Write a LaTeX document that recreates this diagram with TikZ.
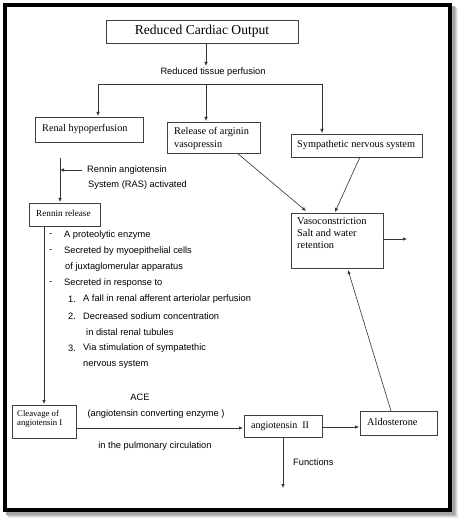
\documentclass[tikz,border=0pt]{standalone}
\usepackage{fontspec}
\setmainfont{Liberation Serif}
\setsansfont{Liberation Sans}
\usetikzlibrary{arrows.meta}
\begin{document}
\begin{tikzpicture}[x=1pt,y=-1pt,
  box/.style={draw=black!75,line width=0.6pt,fill=white,inner sep=0pt},
  lbl/.style={font=\sffamily\fontsize{9.3}{10}\selectfont,inner sep=0pt,anchor=west},
  conn/.style={draw=black!80,line width=0.6pt},
  arr/.style={conn,-{Latex[length=4pt,width=3.5pt]}}]
\useasboundingbox (0,0) rectangle (461,521);
\fill[white] (0,0) rectangle (461,521);
% frame shadow
\foreach \o/\c in {6/black!8,5/black!15,4/black!25,3/black!35}
  \draw[line width=4pt,\c] (5+\o,5+\o) rectangle (450+\o,510+\o);
\fill[white] (7,7) rectangle (448,508);
\draw[line width=4pt,black] (5,5) rectangle (450,510);

% boxes
\node[box,minimum width=192pt,minimum height=23pt,font=\fontsize{13.6}{14}\selectfont] (rco) at (202,31.5) {Reduced Cardiac Output};
\node[font=\sffamily\fontsize{9.3}{10}\selectfont,inner sep=0pt] (rtp) at (213,72) {Reduced tissue perfusion};
\draw[box] (35,117) rectangle (143,142);
\node[anchor=west,inner sep=0pt,font=\fontsize{10.2}{11}\selectfont] (renal) at (42,129) {Renal hypoperfusion};
\coordinate (renalb) at (60,158);
\draw[box] (167,122) rectangle (260,153);
\node[anchor=north west,inner sep=0pt,align=left,font=\fontsize{10.3}{13}\selectfont] (rel) at (174,127) {Release of arginin\\vasopressin};
\draw[box] (291,134) rectangle (422,157);
\node[anchor=west,inner sep=0pt,font=\fontsize{10.3}{11}\selectfont] (sym) at (297,145) {Sympathetic nervous system};
\draw[box] (291,213) rectangle (383,268);
\node[anchor=north west,inner sep=0pt,align=left,font=\fontsize{10.4}{12}\selectfont] (vaso) at (297,217) {Vasoconstriction\\Salt and water\\retention};
\draw[box] (29,203) rectangle (100,226);
\node[anchor=west,inner sep=0pt,font=\fontsize{9.2}{10}\selectfont] (ren) at (36,213) {Rennin release};
\draw[box] (12,405) rectangle (76,438);
\node[anchor=north west,inner sep=0pt,align=left,font=\fontsize{8.7}{9}\selectfont] (clv) at (17,410) {Cleavage of\\angiotensin I};
\draw[box] (244,415) rectangle (322,437);
\node[anchor=west,inner sep=0pt,font=\fontsize{10}{10}\selectfont] (ang) at (251,426) {angiotensin\ \ II};
\draw[box] (360,411) rectangle (437,435);
\node[anchor=west,inner sep=0pt,font=\fontsize{10.3}{10}\selectfont] (ald) at (367,422) {Aldosterone};

% connectors
\draw[arr] (206,43) -- (206,66);
\draw[conn] (98,84) -- (322,84);
\draw[arr] (98,84) -- (98,116);
\draw[arr] (206,84) -- (206,121);
\draw[arr] (322,84) -- (322,133);
\draw[arr] (237,153) -- (306,211);
\draw[arr] (360,157) -- (335,212);
\draw[arr] (383,239) -- (407,239);
\draw[conn,-{Latex[length=4pt,width=3.5pt]}] (renalb) -- (60,202);
\draw[arr] (82,170) -- (60,170);
\draw[arr] (44,226) -- (44,404);
\draw[arr] (76,428) -- (243,428);
\draw[arr] (322,427) -- (359,427);
\draw[arr] (391,411) -- (348,270);
\draw[arr] (283,437) -- (283,488);

% labels
\node[lbl] (ras1) at (87,170) {Rennin angiotensin};
\node[lbl] (ras2) at (88,185) {System (RAS) activated};
\foreach \y/\t in {235/A proteolytic enzyme,251/Secreted by myoepithelial cells,283/Secreted in response to}
  {\node[lbl] at (49,\y) {-}; \node[lbl] at (64,\y) {\t};}
\node[lbl] (jux) at (65,267) {of juxtaglomerular apparatus};
\node[lbl] (n1) at (68,299) {1.}; \node[lbl] at (83,299) {A fall in renal afferent arteriolar perfusion};
\node[lbl] (n2) at (68,316) {2.}; \node[lbl] at (83,316) {Decreased sodium concentration};
\node[lbl] at (86,332) {in distal renal tubules};
\node[lbl] (n3) at (68,348) {3.}; \node[lbl] at (83,348) {Via stimulation of sympatethic};
\node[lbl] at (83,364) {nervous system};
\node[lbl,anchor=center] (ace) at (140,397) {ACE};
\node[lbl,anchor=center] (acef) at (156,414) {(angiotensin converting enzyme )};
\node[lbl,anchor=center] (pulm) at (155,446) {in the pulmonary circulation};
\node[lbl] (fun) at (293,462) {Functions};
\end{tikzpicture}
\end{document}
